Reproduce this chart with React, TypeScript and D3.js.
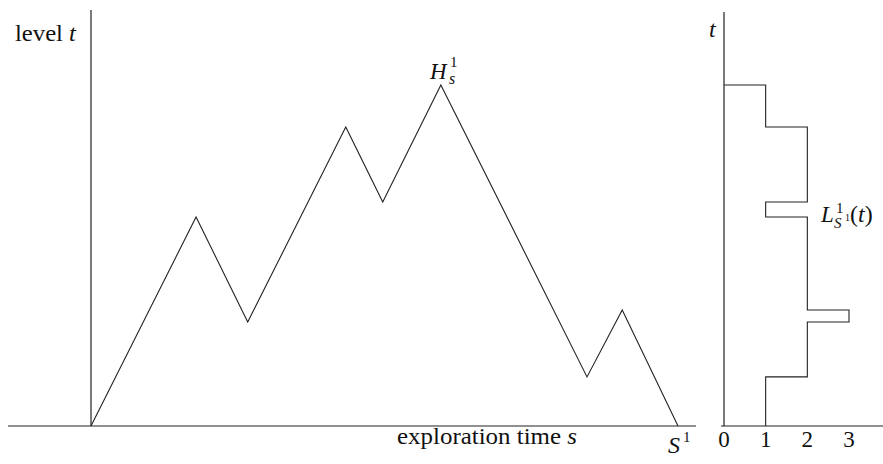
import React from 'react';
import { scaleLinear, line } from 'd3';

// exploration process: vertices (time s, level t)
const sTimes = [0, 17.9, 26.7, 43.4, 49.7, 59.6, 84.5, 90.5, 100];
const heights = [0, 61.3, 30.5, 87.7, 65.7, 100, 14.4, 34.0, 0];

// local time L_{S^1}(t): level boundaries and value on each interval
const levels = [0, 14.4, 30.5, 34.0, 61.3, 65.7, 87.7, 100];
const localTimes = [1, 2, 3, 2, 1, 2, 1];
const ticks = [0, 1, 2, 3];

const W = 883, H = 464;
const font = '"Liberation Serif", "Times New Roman", serif';

export default function App() {
  const xS = scaleLinear().domain([0, 100]).range([91, 678]);
  const yT = scaleLinear().domain([0, 100]).range([426, 85]);
  const xL = scaleLinear().domain([0, 3]).range([724, 849]);

  const pathLine = line<number>()
    .x((_, i) => xS(sTimes[i]))
    .y((d) => yT(d));

  const stepPts: [number, number][] = [];
  localTimes.forEach((l, i) => {
    stepPts.push([l, levels[i]]);
    stepPts.push([l, levels[i + 1]]);
  });
  stepPts.push([0, levels[levels.length - 1]]);
  const stepLine = line<[number, number]>()
    .x((d) => xL(d[0]))
    .y((d) => yT(d[1]));

  const stroke = '#222';
  return (
    <svg width={W} height={H} style={{ position: 'absolute', left: 0, top: 0 }}>
      <rect width={W} height={H} fill="#fff" />
      {/* left panel axes */}
      <line x1={8} x2={696} y1={yT(0)} y2={yT(0)} stroke={stroke} strokeWidth={1.2} />
      <line x1={xS(0)} x2={xS(0)} y1={10} y2={yT(0)} stroke={stroke} strokeWidth={1.2} />
      <path d={pathLine(heights) || ''} fill="none" stroke={stroke} strokeWidth={1.1} />

      {/* right panel axes */}
      <line x1={xL(0) - 3} x2={883} y1={yT(0)} y2={yT(0)} stroke={stroke} strokeWidth={1.2} />
      <line x1={xL(0)} x2={xL(0)} y1={12} y2={yT(0)} stroke={stroke} strokeWidth={1.2} />
      <path d={stepLine(stepPts) || ''} fill="none" stroke={stroke} strokeWidth={1.1} />

      <g fontFamily={font} fill="#111">
        <text x={15} y={41} fontSize={24} textLength={61} lengthAdjust="spacingAndGlyphs">
          level <tspan fontStyle="italic">t</tspan>
        </text>
        <text x={397} y={444} fontSize={24} textLength={180} lengthAdjust="spacingAndGlyphs">
          exploration time <tspan fontStyle="italic">s</tspan>
        </text>
        <text x={668} y={453} fontSize={24} fontStyle="italic">S</text>
        <text x={683} y={442} fontSize={15}>1</text>

        <text x={430} y={79} fontSize={23} fontStyle="italic">H</text>
        <text x={450} y={67} fontSize={15}>1</text>
        <text x={449} y={84} fontSize={16} fontStyle="italic">s</text>

        <text x={709} y={37} fontSize={24} fontStyle="italic">t</text>

        <text x={821} y={222} fontSize={23} fontStyle="italic">L</text>
        <text x={836} y={213} fontSize={15}>1</text>
        <text x={834} y={228} fontSize={15} fontStyle="italic">S</text>
        <text x={845} y={221} fontSize={10}>1</text>
        <text x={850} y={222} fontSize={24}>
          (<tspan fontStyle="italic">t</tspan>)
        </text>

        {ticks.map((v) => (
          <text key={v} x={xL(v)} y={447} fontSize={23} textAnchor="middle">
            {v}
          </text>
        ))}
      </g>
    </svg>
  );
}
